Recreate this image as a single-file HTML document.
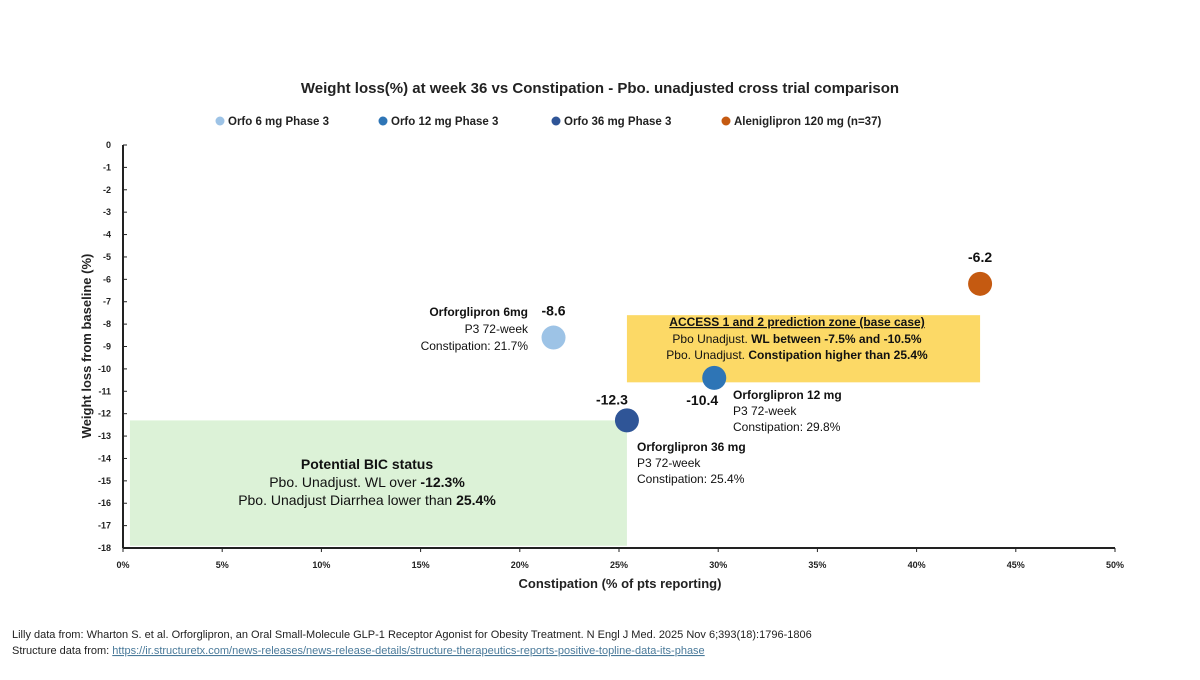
<!DOCTYPE html>
<html><head><meta charset="utf-8"><style>
body{margin:0;background:#fff;width:1200px;height:675px;overflow:hidden;font-family:"Liberation Sans",sans-serif}
svg text{font-family:"Liberation Sans",sans-serif}
</style></head><body>
<svg id="chart" width="1200" height="675">
<text x="600" y="93" text-anchor="middle" font-size="15" font-weight="bold" fill="#222">Weight loss(%) at week 36 vs Constipation - Pbo. unadjusted cross trial comparison</text>
<g id="legend"></g>
<rect id="greenbox" fill="#dcf2d7"/>
<rect id="yellowbox" fill="#fcd966"/>
<g id="axes"></g>
<g id="marks"></g>
<text x="620" y="588" text-anchor="middle" font-size="13" font-weight="bold" fill="#222">Constipation (% of pts reporting)</text>
<text transform="translate(91,346) rotate(-90)" text-anchor="middle" font-size="13" font-weight="bold" fill="#222">Weight loss from baseline (%)</text>
<g font-size="14" fill="#111" text-anchor="middle">
<text x="367" y="469" font-weight="bold">Potential BIC status</text>
<text x="367" y="487">Pbo. Unadjust. WL over <tspan font-weight="bold">-12.3%</tspan></text>
<text x="367" y="505">Pbo. Unadjust Diarrhea lower than <tspan font-weight="bold">25.4%</tspan></text>
</g>
<g font-size="12" fill="#111" text-anchor="middle">
<text x="797" y="326" font-weight="bold" text-decoration="underline">ACCESS 1 and 2 prediction zone (base case)</text>
<text x="797" y="343">Pbo Unadjust. <tspan font-weight="bold">WL between -7.5% and -10.5%</tspan></text>
<text x="797" y="359">Pbo. Unadjust. <tspan font-weight="bold">Constipation higher than 25.4%</tspan></text>
</g>
<g font-size="12" fill="#111">
<text x="528" y="316" text-anchor="end" font-weight="bold">Orforglipron 6mg</text>
<text x="528" y="333" text-anchor="end">P3 72-week</text>
<text x="528" y="350" text-anchor="end">Constipation: 21.7%</text>
<text x="733" y="399" font-weight="bold">Orforglipron 12 mg</text>
<text x="733" y="415">P3 72-week</text>
<text x="733" y="431">Constipation: 29.8%</text>
<text x="637" y="451" font-weight="bold">Orforglipron 36 mg</text>
<text x="637" y="467">P3 72-week</text>
<text x="637" y="483">Constipation: 25.4%</text>
</g>
<g font-size="11" fill="#222">
<text x="12" y="638">Lilly data from: Wharton S. et al. Orforglipron, an Oral Small-Molecule GLP-1 Receptor Agonist for Obesity Treatment. N Engl J Med. 2025 Nov 6;393(18):1796-1806</text>
<text x="12" y="654">Structure data from: <tspan fill="#4a7a9a" text-decoration="underline">https://ir.structuretx.com/news-releases/news-release-details/structure-therapeutics-reports-positive-topline-data-its-phase</tspan></text>
</g>
</svg>
<script>
const seriesNames=["Orfo 6 mg Phase 3","Orfo 12 mg Phase 3","Orfo 36 mg Phase 3","Aleniglipron  120 mg (n=37)"];
const xValues=[21.7,29.8,25.4,43.2];
const yValues=[-8.6,-10.4,-12.3,-6.2];
const valueLabels=["-8.6","-10.4","-12.3","-6.2"];
const colors=["#9dc3e6","#2e75b6","#2f5597","#c55a11"];
const xTicks=[0,5,10,15,20,25,30,35,40,45,50];
const yTicks=[0,-1,-2,-3,-4,-5,-6,-7,-8,-9,-10,-11,-12,-13,-14,-15,-16,-17,-18];
const NS="http://www.w3.org/2000/svg";
const X=v=>123+v*19.84, Y=v=>145-v*22.39;
function mk(t,a,p){const e=document.createElementNS(NS,t);for(const k in a)e.setAttribute(k,a[k]);p.appendChild(e);return e;}
const axes=document.getElementById('axes');
mk('line',{x1:X(0),y1:Y(0),x2:X(0),y2:Y(-18),stroke:'#222','stroke-width':2},axes);
mk('line',{x1:X(0),y1:Y(-18),x2:X(50),y2:Y(-18),stroke:'#222','stroke-width':2},axes);
xTicks.forEach(t=>{mk('line',{x1:X(t),y1:Y(-18),x2:X(t),y2:Y(-18)+4,stroke:'#222'},axes);
 const tx=mk('text',{x:X(t),y:Y(-18)+20,'text-anchor':'middle','font-size':9,'font-weight':'bold',fill:'#222'},axes);tx.textContent=t+'%';
 
 });
yTicks.forEach(t=>{mk('line',{x1:X(0),y1:Y(t),x2:X(0)+4,y2:Y(t),stroke:'#222'},axes);
 const tx=mk('text',{x:111,y:Y(t)+3,'text-anchor':'end','font-size':9,'font-weight':'bold',fill:'#222'},axes);tx.textContent=t;
 
 });
const g=document.getElementById('greenbox');
g.setAttribute('x',X(0.35));g.setAttribute('y',Y(-12.3));g.setAttribute('width',X(25.4)-X(0.35));g.setAttribute('height',Y(-17.9)-Y(-12.3));
const yb=document.getElementById('yellowbox');
yb.setAttribute('x',X(25.4));yb.setAttribute('y',Y(-7.6));yb.setAttribute('width',X(43.2)-X(25.4));yb.setAttribute('height',Y(-10.6)-Y(-7.6));
const marks=document.getElementById('marks');
const lblOff=[[0,-22],[-12,27],[-15,-16],[0,-22]];
xValues.forEach((xv,i)=>{
 const c=mk('circle',{cx:X(xv),cy:Y(yValues[i]),r:12,fill:colors[i]},marks);
 
 
 const t=mk('text',{x:X(xv)+lblOff[i][0],y:Y(yValues[i])+lblOff[i][1],'text-anchor':'middle','font-size':14,'font-weight':'bold',fill:'#111'},marks);
 t.textContent=valueLabels[i];
 
 
});
const leg=document.getElementById('legend');
const lx=[220,383,556,726];
seriesNames.forEach((n,i)=>{
 mk('circle',{cx:lx[i],cy:121,r:4.5,fill:colors[i]},leg);
 const t=mk('text',{x:lx[i]+8,y:125,'font-size':11.5,'font-weight':'bold',fill:'#222'},leg);t.textContent=n;
 
 
});
</script>
</body></html>
